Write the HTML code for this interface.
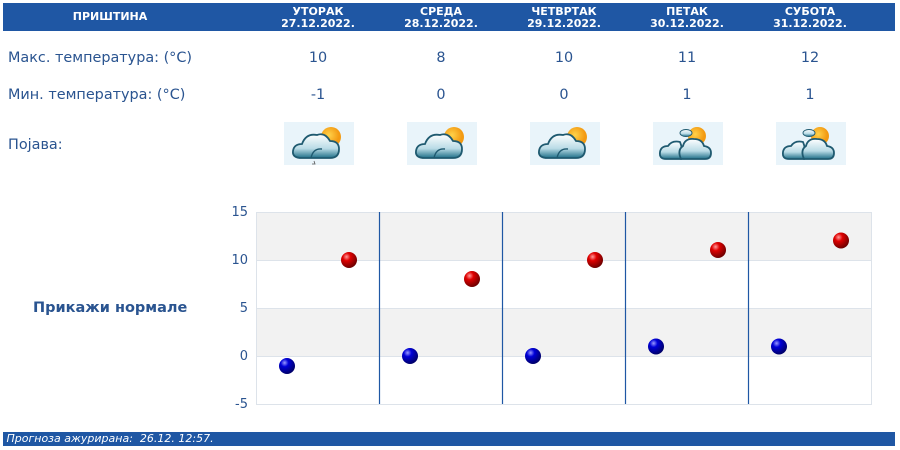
<!DOCTYPE html>
<html><head><meta charset="utf-8">
<style>
body{margin:0;width:900px;height:450px;background:#fff;position:relative;overflow:hidden;font-family:"DejaVu Sans","Liberation Sans",sans-serif;}
.a{position:absolute;}
.hdr{left:3px;top:3px;width:892px;height:28px;background:#1f57a4;}
.h{color:#fff;font-weight:bold;font-size:11px;line-height:12px;text-align:center;top:6px;width:120px;}
.lbl{left:8px;font-size:14.4px;color:#2a5490;}
.v{font-size:14.4px;color:#2a5490;width:60px;text-align:center;}
.ic{width:70px;height:43px;top:122px;background:#e9f4fa;}
.yl{font-size:13px;color:#2a5490;width:30px;text-align:right;left:218px;}
.foot{left:3px;top:432px;width:892px;height:14px;background:#1f57a4;color:#fff;font-style:italic;font-size:11px;line-height:14px;font-family:"DejaVu Sans",sans-serif;}
</style></head><body>
<div class="a hdr"></div>
<div class="a h" style="left:50px;top:11px;">ПРИШТИНА</div>
<div class="a h" style="left:258px">УТОРАК<br>27.12.2022.</div>
<div class="a h" style="left:381px">СРЕДА<br>28.12.2022.</div>
<div class="a h" style="left:504px">ЧЕТВРТАК<br>29.12.2022.</div>
<div class="a h" style="left:627px">ПЕТАК<br>30.12.2022.</div>
<div class="a h" style="left:750px">СУБОТА<br>31.12.2022.</div>

<div class="a lbl" style="top:50px">Макс. температура: (°C)</div>
<div class="a lbl" style="top:87px">Мин. температура: (°C)</div>
<div class="a lbl" style="top:137px">Појава:</div>

<div class="a v" style="left:288px;top:50px">10</div>
<div class="a v" style="left:411px;top:50px">8</div>
<div class="a v" style="left:534px;top:50px">10</div>
<div class="a v" style="left:657px;top:50px">11</div>
<div class="a v" style="left:780px;top:50px">12</div>
<div class="a v" style="left:288px;top:87px">-1</div>
<div class="a v" style="left:411px;top:87px">0</div>
<div class="a v" style="left:534px;top:87px">0</div>
<div class="a v" style="left:657px;top:87px">1</div>
<div class="a v" style="left:780px;top:87px">1</div>

<svg width="0" height="0" style="position:absolute">
<defs>
<radialGradient id="sun" cx="0.4" cy="0.4"><stop offset="0" stop-color="#ffd24a"/><stop offset="1" stop-color="#f39a12"/></radialGradient>
<linearGradient id="cl" x1="0" y1="0" x2="0" y2="1"><stop offset="0" stop-color="#fff"/><stop offset="0.6" stop-color="#b9dbe6"/><stop offset="1" stop-color="#1f6f88"/></linearGradient>
<g id="cloud">
<circle cx="47" cy="15" r="10" fill="url(#sun)"/>
<path d="M18 36 Q8 36 9 29 Q10 22 18 22 Q22 11 33 13 Q41 10 46 19 Q55 19 55 27 Q55 36 46 36 Z" fill="url(#cl)" stroke="#1f5a70" stroke-width="1.8"/>
<path d="M27 36 Q29 26 38 27" fill="none" stroke="#1f5a70" stroke-width="1.4"/>
</g>
<g id="cloud2">
<circle cx="44" cy="14" r="9" fill="url(#sun)"/>
<ellipse cx="33" cy="11" rx="6" ry="3.5" fill="url(#cl)" stroke="#1f5a70" stroke-width="0.9"/>
<path d="M13 37 Q6 37 7 30 Q8 24 15 24 Q19 18 27 20 Q30 26 28 37 Z" fill="url(#cl)" stroke="#1f5a70" stroke-width="1.8"/>
<path d="M28 37 Q24 28 30 24 Q32 16 41 17 Q49 17 51 24 Q58 25 58 31 Q58 37 52 37 Z" fill="url(#cl)" stroke="#1f5a70" stroke-width="1.8"/>
</g>
</defs></svg>
<svg class="a ic" style="left:284px" viewBox="0 0 70 43"><use href="#cloud"/><path d="M30 39 l1 3 l-3 0" stroke="#555" fill="none" stroke-width="0.8"/></svg>
<svg class="a ic" style="left:407px" viewBox="0 0 70 43"><use href="#cloud"/></svg>
<svg class="a ic" style="left:530px" viewBox="0 0 70 43"><use href="#cloud"/></svg>
<svg class="a ic" style="left:653px" viewBox="0 0 70 43"><use href="#cloud2"/></svg>
<svg class="a ic" style="left:776px" viewBox="0 0 70 43"><use href="#cloud2"/></svg>

<div class="a" style="left:33px;top:300px;font-size:14.5px;font-weight:bold;color:#2a5490;">Прикажи нормале</div>

<div class="a yl" style="top:205px">15</div>
<div class="a yl" style="top:253px">10</div>
<div class="a yl" style="top:301px">5</div>
<div class="a yl" style="top:349px">0</div>
<div class="a yl" style="top:397px">-5</div>

<svg class="a" style="left:0;top:0" width="900" height="450">
<defs>
<radialGradient id="r" cx="0.35" cy="0.3" r="0.7"><stop offset="0" stop-color="#ff9a9a"/><stop offset="0.35" stop-color="#e00000"/><stop offset="1" stop-color="#700000"/></radialGradient>
<radialGradient id="b" cx="0.35" cy="0.3" r="0.7"><stop offset="0" stop-color="#9a9aff"/><stop offset="0.35" stop-color="#0000d8"/><stop offset="1" stop-color="#00006a"/></radialGradient>
</defs>
<rect x="256" y="212" width="616" height="48" fill="#f2f2f2"/>
<rect x="256" y="308" width="616" height="48" fill="#f2f2f2"/>
<g stroke="#dde3ea" stroke-width="1">
<line x1="256" y1="212.5" x2="872" y2="212.5"/>
<line x1="256" y1="260.5" x2="872" y2="260.5"/>
<line x1="256" y1="308.5" x2="872" y2="308.5"/>
<line x1="256" y1="356.5" x2="872" y2="356.5"/>
<line x1="256" y1="404.5" x2="872" y2="404.5"/>
<line x1="256.5" y1="212" x2="256.5" y2="404"/>
<line x1="871.5" y1="212" x2="871.5" y2="404"/>
</g>
<g stroke="#1f57a4" stroke-width="1.2">
<line x1="379.5" y1="212" x2="379.5" y2="404"/>
<line x1="502.5" y1="212" x2="502.5" y2="404"/>
<line x1="625.5" y1="212" x2="625.5" y2="404"/>
<line x1="748.5" y1="212" x2="748.5" y2="404"/>
</g>
<g fill="url(#b)">
<circle cx="287" cy="366" r="8"/>
<circle cx="410" cy="356" r="8"/>
<circle cx="533" cy="356" r="8"/>
<circle cx="656" cy="346.5" r="8"/>
<circle cx="779" cy="346.5" r="8"/>
</g>
<g fill="url(#r)">
<circle cx="349" cy="260" r="8"/>
<circle cx="472" cy="279" r="8"/>
<circle cx="595" cy="260" r="8"/>
<circle cx="718" cy="250" r="8"/>
<circle cx="841" cy="240.5" r="8"/>
</g>
</svg>

<div class="a foot">&nbsp;Прогноза ажурирана:&nbsp; 26.12. 12:57.</div>
</body></html>
